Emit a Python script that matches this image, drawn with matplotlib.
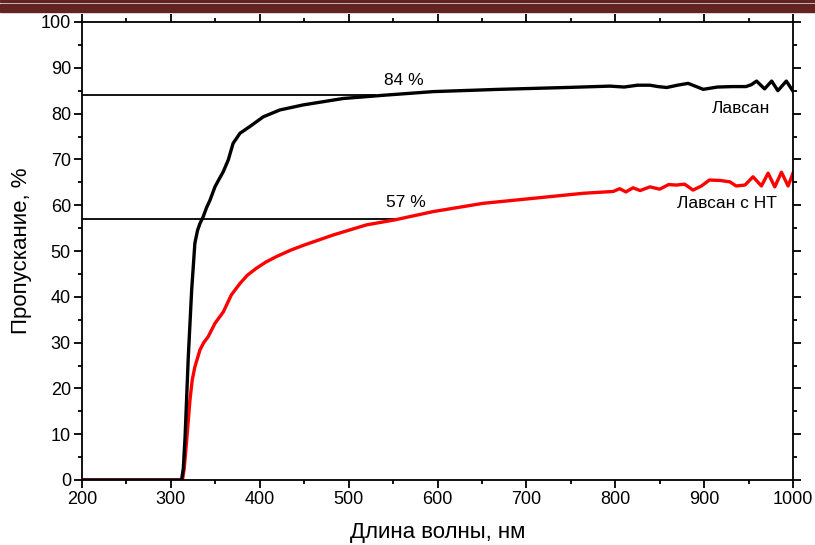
import matplotlib
matplotlib.use("Agg")
import matplotlib.pyplot as plt
from matplotlib.patches import Rectangle
from matplotlib.ticker import MultipleLocator

plt.rcParams['font.family'] = ['Liberation Sans', 'DejaVu Sans']

# Лавсан (black)
wl_pet = [200, 250, 300, 312, 314, 316, 319.6, 323.4, 327, 330, 332.7, 336.4, 340, 344, 349.6,
          354, 358.9, 364.6, 370, 377.7, 389, 404, 422.7, 449, 494, 539, 595, 670, 745,
          794, 810, 825, 839, 848, 858, 870, 882, 899, 915, 932, 947, 953, 959, 968,
          976, 983, 992.5, 1000]
tr_pet = [0, 0, 0, 0, 2.5, 9.5, 26.9, 41.5, 51.7, 54.5, 56, 57.5, 59.4, 61.1, 64,
          65.6, 67.3, 69.9, 73.5, 75.7, 77.2, 79.3, 80.8, 81.9, 83.3, 84, 84.8, 85.3, 85.7,
          86, 85.8, 86.2, 86.2, 85.9, 85.7, 86.2, 86.6, 85.3, 85.8, 85.9, 85.9, 86.3, 87.1, 85.4,
          87.1, 85, 87.1, 84.9]

# Лавсан с НТ (red)
wl_nt = [200, 250, 300, 313, 315, 317.8, 321.5, 324, 327, 332.7, 337, 342, 349.6, 359, 368,
         377.7, 386, 396, 407, 419, 435, 450, 482.7, 520, 552, 595, 651, 707.6, 764, 797.6, 805, 812,
         820, 828, 839, 850, 860, 869, 878, 887.5, 897, 906, 918, 929, 936, 946, 955,
         964.5, 972, 979.5, 987, 994.5, 1000]
tr_nt = [0, 0, 0, 0, 2.5, 8.7, 17.5, 21.8, 24.7, 28.4, 30, 31.3, 34.2, 36.7, 40.4,
         42.9, 44.7, 46.2, 47.6, 48.8, 50.2, 51.3, 53.5, 55.7, 56.8, 58.6, 60.4, 61.5, 62.6, 63, 63.6, 62.9,
         63.8, 63.2, 64, 63.5, 64.5, 64.4, 64.6, 63.3, 64.2, 65.5, 65.4, 65.1, 64.2, 64.4, 66.2,
         64.2, 67, 64, 67.2, 64.2, 67]

level_pet = 84
level_nt = 57
level_pet_end = 530
level_nt_end = 552

fig = plt.figure(figsize=(8.15, 5.45), dpi=100)
# header band at the top of the page
fig.patches.append(Rectangle((0, 1 - 2 / 545), 1, 2 / 545, transform=fig.transFigure,
                             color='#622423', zorder=0))
fig.patches.append(Rectangle((0, 1 - 12 / 545), 1, 8 / 545, transform=fig.transFigure,
                             color='#622423', zorder=0))

ax = fig.add_axes([82 / 815, 1 - 480 / 545, 711 / 815, 458 / 545])

ax.plot([200, level_pet_end], [level_pet, level_pet], color='black', lw=1.3)
ax.plot([200, level_nt_end], [level_nt, level_nt], color='black', lw=1.3)
ax.plot(wl_nt, tr_nt, color='red', lw=2.4)
ax.plot(wl_pet, tr_pet, color='black', lw=2.4)

ax.text(562, 85.6, '84 %', ha='center', va='bottom', fontsize=12.5)
ax.text(564, 59.0, '57 %', ha='center', va='bottom', fontsize=12.5)
ax.text(942, 79.5, 'Лавсан', ha='center', va='bottom', fontsize=12.5)
ax.text(926, 58.8, 'Лавсан с НТ', ha='center', va='bottom', fontsize=12.5)

ax.set_xlim(200, 1000)
ax.set_ylim(0, 100)
ax.xaxis.set_major_locator(MultipleLocator(100))
ax.xaxis.set_minor_locator(MultipleLocator(50))
ax.yaxis.set_major_locator(MultipleLocator(10))
ax.yaxis.set_minor_locator(MultipleLocator(5))
ax.tick_params(which='both', direction='out', top=True, right=True, width=1.3,
               labelsize=13, pad=2.5)
ax.tick_params(which='major', length=5.5)
ax.tick_params(which='minor', length=3)
for s in ax.spines.values():
    s.set_linewidth(1.3)

ax.set_xlabel('Длина волны, нм', fontsize=16, labelpad=10)
ax.set_ylabel('Пропускание, %', fontsize=16, labelpad=6)

fig.savefig('out.png', dpi=100)
